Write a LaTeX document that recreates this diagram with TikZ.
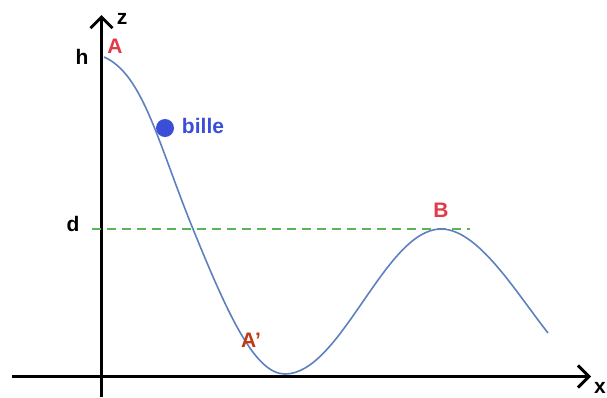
\documentclass[tikz,border=0pt]{standalone}
\usepackage{fontspec}
\setmainfont{Liberation Sans}
\usetikzlibrary{arrows.meta}
\definecolor{curveblue}{HTML}{5E80BE}
\definecolor{billeblue}{HTML}{3B4ED8}
\definecolor{labred}{HTML}{E23A48}
\definecolor{labdark}{HTML}{C0390F}
\definecolor{dashgreen}{HTML}{58B558}
\begin{document}
\begin{tikzpicture}[x=1pt,y=-1pt,
  axis/.style={line width=3pt,-{Straight Barb[length=11pt,width=22pt,line width=3pt]}},
  lab/.style={font=\bfseries\fontsize{21}{24}\selectfont,inner sep=0pt},
  curve/.style={curveblue,line width=1.6pt},
  guide/.style={dashgreen,line width=2pt,dash pattern=on 9pt off 6pt}]
\useasboundingbox (0,0) rectangle (607,397);
% axes
\coordinate (zb) at (101.5,397);
\coordinate (zt) at (101.5,15);
\coordinate (xl) at (12,376.5);
\coordinate (xr) at (591,376.5);
\draw[axis] (zb) -- (zt);
\draw[axis] (xl) -- (xr);
% level d
\coordinate (d1) at (92,229);
\coordinate (d2) at (470,229);
\draw[guide] (d1) -- (d2);
% curve
\coordinate (pA) at (104,57);
\coordinate (pD) at (193,229);
\coordinate (pMin) at (285,374);
\coordinate (pB) at (441,229);
\coordinate (pEnd) at (548,333);
\draw[curve] (pA) .. controls (143,74) and (158,143) .. (pD)
  .. controls (228,315) and (255,374) .. (pMin)
  .. controls (341,374) and (385,229) .. (pB)
  .. controls (478,229) and (515,291) .. (pEnd);
% bille
\node[circle,fill=billeblue,minimum size=18pt,inner sep=0pt] (ball) at (165,128) {};
\node[lab,billeblue] (bille) at (203,126) {bille};
% labels
\node[lab] (z) at (122,19) {z};
\node[lab] (h) at (82,57) {h};
\node[lab,labred] (A) at (115,46) {A};
\node[lab] (d) at (73,224) {d};
\node[lab,labred] (B) at (441,210) {B};
\node[lab,labdark] (Ap) at (251,340) {A’};
\node[lab] (x) at (600,388) {x};
\end{tikzpicture}
\end{document}
